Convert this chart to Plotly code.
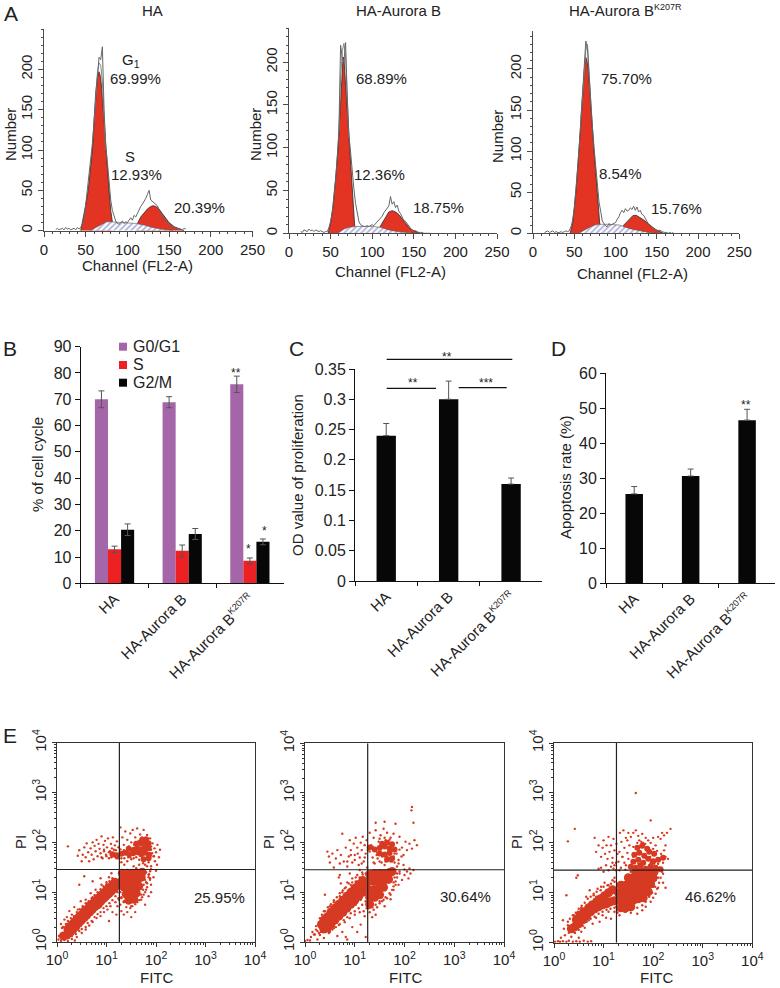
import numpy as np
import plotly.graph_objects as go

W, H = 780, 988
FONT = "Liberation Sans"
INK = "#222222"
AXIS = "#4a4a4a"

SMALL_SUP = '<sup><span style="font-size:9px">K207R</span></sup>'
CATS = ["HA", "HA-Aurora B", "HA-Aurora B" + SMALL_SUP]

# panel A: histograms
RAW_CH = [14, 16, 18, 20, 22, 24, 26, 28, 30, 32, 34, 36, 38, 40, 42, 44, 46, 48, 50, 52, 54, 56, 58, 60, 62, 64, 66, 68, 70, 72,
          74, 76, 78, 80, 82, 84, 86, 88, 90, 92, 94, 96, 98, 100, 102, 104, 106, 108, 110, 112, 114, 116, 118, 120, 122, 124, 126,
          128, 130, 132, 134, 136, 138, 140, 142, 144, 146, 148, 150, 152, 154, 156, 158, 160, 162, 164, 166, 168, 170]
HA_RAW = [1, 3, 1, 2, 3, 1, 4, 2, 3, 1, 2, 3, 1, 4, 2, 4, 8, 15, 32, 50, 68, 88, 108, 135, 172, 190, 215, 212, 228, 150,
          105, 85, 58, 38, 25, 17, 12, 9, 8, 10, 12, 9, 11, 10, 14, 16, 13, 19, 17, 22, 26, 30, 33, 36, 40, 45, 50,
          38, 36, 35, 33, 31, 26, 22, 17, 14, 10, 9, 7, 5, 4, 4, 3, 2, 2, 2, 1, 3, 2]
HAB_RAW = [2, 1, 4, 3, 2, 5, 3, 4, 2, 4, 3, 2, 3, 2, 1, 2, 2, 7, 14, 25, 42, 62, 90, 120, 220, 205, 200, 223, 160, 115,
           95, 70, 52, 35, 22, 14, 10, 9, 8, 8, 9, 8, 9, 10, 9, 11, 13, 15, 18, 20, 24, 27, 30, 32, 43, 34, 37,
           30, 33, 26, 23, 19, 15, 14, 11, 8, 6, 4, 3, 3, 2, 1, 1, 1, 0, 0, 0, 0, 0]
HAK_RAW = [1, 2, 3, 1, 2, 3, 1, 2, 1, 1, 2, 1, 2, 3, 2, 3, 8, 16, 30, 50, 78, 105, 140, 172, 205, 234, 225, 190, 165, 130,
           104, 82, 60, 38, 27, 15, 12, 9, 8, 12, 10, 11, 13, 13, 17, 20, 25, 28, 25, 30, 27, 28, 31, 29, 33, 28, 32,
           26, 28, 23, 22, 18, 15, 11, 10, 8, 7, 4, 3, 3, 4, 2, 1, 1, 1, 0, 1, 0, 1]

# second contour around the G1 peak
HA_TOP_CH = [60, 62, 64, 66, 68, 70, 72, 74]
HA_TOP = [135, 170, 195, 208, 205, 185, 140, 100]
HAB_TOP_CH = [60, 62, 64, 66, 68, 70, 72]
HAB_TOP = [120, 180, 213, 222, 206, 150, 112]
HAK_TOP_CH = [58, 60, 62, 64, 66, 68, 70]
HAK_TOP = [140, 172, 200, 222, 230, 190, 160]

HA_G1_CH = [44, 47, 50, 53, 56, 58, 60, 62, 64, 66, 68, 70, 72, 74, 76, 78, 80, 82]
HA_G1 = [0, 15, 32, 50, 80, 100, 135, 170, 190, 197, 190, 165, 135, 100, 78, 50, 25, 11]
HA_S_CH = [55, 60, 65, 70, 75, 80, 90, 100, 110, 120, 130, 140, 150, 155]
HA_S = [0, 3, 6, 9, 11, 11, 10.5, 10, 9, 7, 4, 2, 1, 0]
HA_G2_CH = [112, 116, 120, 124, 128, 131, 134, 138, 142, 146, 150, 156, 162, 168]
HA_G2 = [9, 17, 22, 27, 30, 31, 30, 27, 21, 15, 10, 5, 2, 0]

HAB_G1_CH = [47, 50, 53, 55, 57, 59, 61, 62, 64, 65, 66, 68, 69, 71, 72.5, 74, 76, 78, 79]
HAB_G1 = [0, 12, 32, 50, 75, 100, 135, 150, 195, 206, 205, 175, 150, 120, 100, 78, 50, 15, 8]
HAB_S_CH = [58, 62, 66, 72, 80, 90, 100, 110, 120, 130, 140, 150]
HAB_S = [0, 3, 5, 7, 8, 8, 8, 7, 4, 2, 1, 0]
HAB_G2_CH = [109, 112, 116, 120, 124, 128, 132, 136, 140, 144, 148, 152, 157]
HAB_G2 = [7, 12, 20, 25, 26.5, 25, 22, 17, 11, 7, 4, 2, 0]

HAK_G1_CH = [45, 48, 52, 54, 56, 58, 59, 61, 62, 63, 64, 65, 67, 69, 70, 72, 74, 76, 78, 80, 81]
HAK_G1 = [0, 12, 50, 75, 100, 135, 150, 185, 200, 210, 214, 212, 200, 170, 150, 125, 100, 75, 50, 20, 10]
HAK_S_CH = [55, 60, 65, 70, 75, 80, 90, 100, 105, 110, 120, 130, 140, 150]
HAK_S = [0, 3, 6, 8, 10, 11, 11, 10.5, 10, 8, 5, 3, 1, 0]
HAK_G2_CH = [109, 113, 117, 121, 125, 129, 133, 137, 141, 145, 150, 155, 158]
HAK_G2 = [9, 13, 18, 21.5, 22, 20, 17, 14, 10, 7, 4, 1, 0]

# panel B
G0G1 = [69.99, 68.89, 75.70]
G0G1_ERR = [3.2, 2.1, 3.1]
S_PHASE = [12.93, 12.36, 8.54]
S_ERR = [1.2, 2.2, 1.1]
G2M = [20.39, 18.75, 15.76]
G2M_ERR = [2.2, 2.1, 1.1]

# panel C, D
OD = [0.24, 0.30, 0.16]
OD_ERR = [0.02, 0.03, 0.01]
APOP = [25.5, 30.6, 46.6]
APOP_ERR = [2.1, 2.0, 3.1]

# panel E: dot plots in decades
E1_CORE_X = [.13, .20, .27, .22, .33, .28, .38, .33, .44, .39, .49, .44, .55, .50, .60, .55, .66, .61, .71, .66, .77, .72, .83, .77, .88, .83, .94, .89, .99, .94, 1.05, 1.0, 1.1, 1.05, 1.16, 1.12, 1.2, 1.17,
             1.32, 1.42, 1.52, 1.62, 1.72, 1.32, 1.42, 1.52, 1.62, 1.7, 1.35, 1.45, 1.55, 1.65, 1.4, 1.5, 1.6, 1.45, 1.55]
E1_CORE_Y = [.12, .14, .20, .26, .26, .33, .31, .38, .38, .44, .43, .50, .49, .55, .54, .61, .6, .66, .65, .72, .71, .77, .75, .82, .81, .88, .87, .93, .92, .98, .97, 1.04, 1.02, 1.09, 1.08, 1.14, 1.14, 1.2,
             1.38, 1.38, 1.38, 1.38, 1.4, 1.24, 1.24, 1.24, 1.24, 1.3, 1.1, 1.1, 1.1, 1.12, .96, .96, .98, .84, .86]
E1_MID_X = [1.12, 1.2, 1.30, 1.38, 1.46, 1.54, 1.62, 1.7, 1.78, 1.86, 1.62, 1.7, 1.78, 1.7, 1.78, 1.75, 1.85, 1.45, 1.55, 1.85, 1.6, 1.85, 1.72, 1.8]
E1_MID_Y = [1.76, 1.74, 1.77, 1.79, 1.76, 1.78, 1.8, 1.76, 1.79, 1.75, 1.88, 1.86, 1.9, 1.98, 1.96, 1.66, 1.68, 1.87, 1.85, 1.88, 1.97, 1.98, 2.05, 2.06]
E1_DOT_X = [.22, .42, .45, .5, .52, .55, .58, .6, .63, .65, .68, .7, .72, .74, .76, .78, .8, .82, .84, .86, .88, .9, .92, .94, .95, .97, .99, 1.01, 1.03, 1.05, 1.07, 1.09, 1.11, 1.13, 1.15, 1.17, 1.19, 1.21, 1.23, 1.24,
            1.28, 1.32, 1.35, 1.38, 1.42, 1.45, 1.48, 1.5, 1.53, 1.56, 1.58, 1.62, 1.65, 1.68, 1.72, 1.75, 1.78, 1.82, 1.85, 1.88, 1.9, 1.93, 1.95, 1.97, 2.0, 2.03, 2.06, 2.08, 1.98, 2.02, 1.85, 1.78, 1.9, 1.42, 1.5, 1.3, 1.36,
            .08, .1, .15, .2, .25, .3, .35, .42, .48, .52, .58, .62, .68, .72, .78, .84, .9, .95, 1.0, .45, .55, .72, .88, 1.05, 1.1, .4, .5, .58, .65, .72, .8, .88, .95, 1.02, 1.08, 1.12, 1.18, 1.2, 1.05, .3, .15, .08, .03, .22, .36, .04,
            1.28, 1.3, 1.4, 1.48, 1.52, 1.62, 1.7, 1.75, 1.8, 1.82, 1.85, 1.88, 1.95, 2.0, 1.9, 1.78, 1.5, 1.42, 1.58, 1.35, 1.85]
E1_DOT_Y = [1.92, 1.73, 1.84, 1.62, 1.75, 1.9, 1.7, 1.98, 1.8, 1.62, 1.88, 1.75, 2.0, 1.66, 1.93, 1.82, 2.05, 1.72, 1.97, 1.87, 1.78, 2.12, 1.68, 1.95, 1.85, 2.03, 1.75, 1.9, 2.08, 1.68, 1.82, 1.97, 1.88, 2.1, 1.72, 1.94, 1.84, 2.02, 1.68, 1.9,
            2.3, 2.1, 1.95, 2.22, 2.05, 1.92, 2.18, 2.0, 2.25, 1.95, 2.1, 2.28, 2.03, 2.16, 2.1, 2.25, 2.05, 2.15, 1.95, 2.08, 1.85, 1.98, 1.72, 1.88, 1.8, 1.95, 1.7, 1.85, 1.62, 1.55, 1.6, 1.55, 1.52, 1.62, 1.66, 1.6, 1.55,
            .36, .28, .45, .5, .62, .55, .7, .65, .82, .72, .85, .78, .98, .9, 1.05, .98, 1.15, 1.08, 1.2, 1.15, 1.32, 1.22, 1.28, 1.3, 1.38, .1, .18, .25, .33, .4, .48, .52, .6, .65, .72, .6, .8, .55, .42, .06, .04, .02, .05, .02, .03, .12,
            .75, .62, .7, .68, .72, .8, .85, .95, 1.05, 1.18, 1.3, 1.42, 1.3, 1.43, 1.15, .75, .5, .6, .6, .55, .92]
E1_EXTRA_X = [1.28, 1.35, 1.42, 1.48, 1.55, 1.6, 1.66, 1.72, 1.8, 1.88, 1.92, 1.96, 1.9, 1.84, 1.76, 1.68, 1.6, 1.52, 1.44, 1.36, 1.1, 1.05, 1.0, .95, .9, 1.15, 1.2, 1.25, 1.3, 1.66, 1.74, 1.82, 1.9, 1.6, 1.55, 1.5, 1.88, 1.86, 1.8, 1.74, 1.7, 1.25, 1.22, 1.9, 1.3, 1.35, 1.28,
              .3, .38, .45, .5, .58, .62, .7, .76, .82, .88, .94, 1.0, 1.06, 1.12, 1.18, 1.22, 1.24, .42, .55, .68, .8, .92, 1.04, 1.15,
              .12, .18, .22, .28, .34, .4, .46, .52, .58, .64, .7, .76, .82, .88, .94, 1.0, 1.06, 1.12, .3, .4, .5, .6, .7, .8, .9, 1.0, 1.1,
              1.85, 1.88, 1.82, 1.78, 1.72, 1.66, 1.58, 1.5, 1.42, 1.35, 1.3, 1.78, 1.8, 1.75]
E1_EXTRA_Y = [1.86, 1.84, 1.88, 1.7, 1.68, 1.7, 1.65, 1.68, 1.68, 1.7, 1.78, 1.72, 1.92, 1.96, 2.02, 1.95, 1.9, 1.85, 1.7, 1.68, 1.7, 1.8, 1.72, 1.82, 1.7, 1.85, 1.68, 1.72, 1.68, 1.55, 1.58, 1.52, 1.46, 1.48, 1.52, 1.44, 1.28, 1.36, 1.2, 1.05, .95, .85, .72, 1.0, .9, .8, 1.0,
              .12, .16, .22, .26, .3, .38, .42, .5, .56, .6, .68, .72, .78, .84, .92, 1.0, .88, .3, .42, .55, .68, .8, .9, 1.02,
              .3, .36, .42, .48, .52, .6, .66, .7, .78, .82, .88, .94, 1.0, 1.06, 1.12, 1.16, 1.22, 1.28, .42, .52, .62, .72, .82, .92, 1.02, 1.1, 1.2,
              1.35, 1.25, 1.1, 1.0, .9, .84, .76, .72, .78, .82, .88, 1.25, 1.4, 1.15]

E2_CORE_X = [.38, .33, .45, .42, .38, .52, .5, .44, .6, .57, .52, .68, .65, .6, .76, .73, .68, .84, .81, .76, .92, .89, .84, 1.0, .97, .92, 1.08, 1.05, 1.0, 1.16, 1.13, 1.08, 1.24, 1.2, 1.16,
             1.3, 1.4, 1.5, 1.6, 1.7, 1.28, 1.38, 1.48, 1.58, 1.68, 1.28, 1.38, 1.48, 1.58, 1.3, 1.4, 1.5, 1.75, 1.3]
E2_CORE_Y = [.26, .35, .28, .36, .44, .35, .44, .50, .44, .52, .6, .52, .6, .68, .6, .68, .76, .68, .76, .84, .76, .84, .92, .84, .92, 1.0, .92, 1.0, 1.08, 1.0, 1.08, 1.16, 1.08, 1.16, 1.24,
             1.36, 1.38, 1.38, 1.38, 1.4, 1.22, 1.22, 1.24, 1.24, 1.26, 1.05, 1.05, 1.08, 1.1, .9, .9, .95, 1.42, .76]
E2_MID_X = [1.4, 1.5, 1.6, 1.7, 1.8, 1.55, 1.65, 1.75, 1.5, 1.6, 1.7, 1.65, 1.75, 1.3]
E2_MID_Y = [1.86, 1.89, 1.92, 1.88, 1.86, 1.98, 2.0, 1.97, 1.78, 1.76, 1.79, 1.66, 1.68, 1.9]
E2_DOT_X = [.45, .48, .5, .55, .58, .62, .65, .7, .72, .75, .78, .82, .85, .88, .9, .92, .95, .98, 1.0, 1.02, 1.05, 1.08, 1.1, 1.12, 1.14, 1.16, 1.18, 1.2, 1.22, 1.24, 1.25, 1.1,
            1.3, 1.33, 1.36, 1.38, 1.4, 1.42, 1.45, 1.48, 1.5, 1.52, 1.55, 1.58, 1.6, 1.62, 1.65, 1.68, 1.72, 1.75, 1.78, 1.8, 1.85, 1.88, 1.9, 1.95, 1.98, 2.02, 2.05, 2.1, 2.15, 2.2, 2.25, 1.82, 1.6, 1.42, 2.18, 2.15, 2.14, 1.98, 1.85, 2.0, 2.1, 2.18,
            .0, .05, .1, .12, .2, .25, .3, .38, .22, .28, .15, .35, .38, .45, .4, .5, .58, .62, .68, .7, .75, .72, .8, .85, .92, .7, .95, 1.02, .9, 1.05, 1.15, .5, .58, .65, .68, .75, .8, .82, .9, .95, 1.0, 1.05, 1.1, 1.12, 1.2, 1.22, 1.24, .85,
            1.3, 1.38, 1.45, 1.5, 1.55, 1.62, 1.7, 1.75, 1.78, 1.82, 1.85, 1.9, 1.95, 2.0, 2.05, 1.88, 1.72, 1.35, 1.42, 1.6, 2.12, 2.08]
E2_DOT_Y = [1.82, 1.72, 1.6, 1.78, 1.5, 1.68, 1.85, 1.58, 1.75, 2.18, 1.62, 1.9, 1.52, 1.72, 2.05, 1.85, 1.6, 1.98, 1.75, 2.1, 1.9, 1.55, 1.7, 2.0, 1.85, 2.12, 1.62, 1.95, 1.78, 2.05, 1.5, 1.45,
            2.2, 1.95, 1.7, 2.1, 1.58, 2.25, 1.8, 2.02, 1.62, 2.15, 1.72, 2.28, 1.55, 2.05, 2.2, 1.7, 2.1, 1.62, 2.18, 1.78, 2.0, 1.65, 2.12, 1.9, 1.75, 2.02, 1.85, 1.98, 1.88, 2.05, 1.95, 2.38, 2.42, 2.4, 2.4, 2.72, 2.65, 1.55, 1.52, 1.46, 1.48, 1.45,
            .02, .04, .03, .1, .15, .05, .14, .08, .25, .4, .2, .5, .62, .58, .95, .72, .8, .75, 1.3, .92, 1.0, 1.18, 1.08, 1.2, 1.15, 1.35, 1.28, 1.22, 1.38, 1.35, 1.4, .2, .28, .12, .34, .2, .4, .1, .48, .3, .55, .2, .6, .35, .52, .1, .68, .05,
            .6, .65, .7, .78, .82, .9, .98, 1.05, 1.12, 1.22, 1.3, 1.38, 1.25, 1.35, 1.42, 1.15, .86, .5, .55, .72, 1.38, 1.28]
E2_EXTRA_X = [1.3, 1.36, 1.44, 1.52, 1.58, 1.64, 1.7, 1.78, 1.84, 1.9, 1.94, 1.46, 1.54, 1.62, 1.72, 1.8, 1.88, 1.5, 1.6, 1.7, 1.38, 1.26, 1.2, 1.14, 1.06, 1.0, .92, .85,
              .48, .55, .62, .7, .78, .85, .92, 1.0, 1.08, 1.15, 1.22, 1.18, 1.25, .65, .78, .9, 1.02, 1.12,
              .3, .34, .4, .46, .52, .58, .64, .7, .76, .82, .88, .95, 1.02, 1.1, 1.16, 1.22, .42, .5, .58, .66,
              .25, .3, .22, .28, .18, .32,
              1.8, 1.82, 1.78, 1.72, 1.65, 1.58, 1.5, 1.42, 1.35, 1.28, 1.85, 1.9, 1.78]
E2_EXTRA_Y = [1.82, 1.92, 1.75, 1.95, 1.78, 1.72, 1.8, 1.72, 1.78, 1.86, 1.72, 1.68, 1.6, 1.62, 1.62, 1.6, 1.58, 2.08, 2.1, 2.06, 1.6, 1.85, 1.7, 1.58, 1.78, 1.65, 1.75, 1.62,
              .18, .25, .3, .36, .44, .5, .58, .62, .68, .75, .82, .62, .9, .42, .55, .68, .75, .85,
              .48, .55, .62, .7, .76, .84, .9, .98, 1.04, 1.1, 1.18, 1.2, 1.3, 1.3, 1.36, 1.38, .52, .6, .7, .78,
              .22, .28, .32, .18, .15, .2,
              1.3, 1.15, 1.05, .95, .88, .85, .82, .75, .7, .68, 1.38, 1.42, 1.2]

E3_CORE_X = [.35, .42, .5, .45, .58, .52, .66, .6, .74, .7, .82, .78, .9, .86, .98, .94, 1.06, 1.02, 1.14, 1.1, 1.22, 1.18,
             1.35, 1.45, 1.55, 1.3, 1.4, 1.5, 1.6, 1.7, 1.8, 1.3, 1.4, 1.5, 1.6, 1.7, 1.8, 1.9, 1.35, 1.45, 1.55, 1.65, 1.75, 1.85, 1.95, 1.5, 1.6, 1.7, 1.8, 1.9, 2.0, 1.65, 1.75, 1.85, 1.95, 2.02]
E3_CORE_Y = [.28, .32, .38, .46, .46, .54, .54, .62, .62, .7, .68, .76, .72, .82, .76, .88, .78, .94, .82, 1.0, .84, 1.06,
             .7, .7, .72, .85, .85, .85, .85, .88, .9, 1.0, 1.0, 1.0, 1.0, 1.0, 1.0, 1.02, 1.15, 1.15, 1.15, 1.15, 1.15, 1.15, 1.18, 1.3, 1.3, 1.3, 1.3, 1.3, 1.3, 1.42, 1.42, 1.42, 1.42, 1.42]
E3_MID_X = [1.55, 1.65, 1.75, 1.85, 1.95, 2.05, 2.15, 1.6, 1.7, 1.8, 1.9, 2.0, 2.1, 2.2, 1.62, 1.72, 1.82, 1.92, 2.02, 1.68, 1.78, 1.88]
E3_MID_Y = [1.52, 1.5, 1.55, 1.48, 1.53, 1.5, 1.47, 1.62, 1.66, 1.6, 1.68, 1.63, 1.66, 1.7, 1.76, 1.8, 1.74, 1.82, 1.78, 1.9, 1.94, 1.88]
E3_DOT_X = [.02, .08, .12, .18, .25, .3, .38, .45, .52, .6, .68, .75, .14, .22, .3, .2, .28, .18, .35, .42, .5, .55, .62, .4, .48, .55, .62, .7, .78, .85, .92, .98, 1.05, 1.1, .25, .65, .72, .8, .88, .95, 1.02, 1.1, 1.18, 1.22, .45, .48, .28, .42, 1.15, 1.22,
            .82, .85, .9, .95, .98, 1.0, 1.03, 1.06, 1.08, 1.1, 1.12, 1.15, 1.18, 1.2, 1.22, 1.25, 1.26, 1.05, 1.15, .95, .9, 1.1, 1.2, 1.0,
            1.3, 1.32, 1.33, 1.36, 1.38, 1.4, 1.42, 1.45, 1.48, 1.5, 1.55, 1.6, 1.65, 1.7, 1.72, 1.78, 1.8, 1.85, 1.9, 1.95, 2.0, 2.05, 2.1, 2.15, 2.18, 2.22, 2.28, 2.35, 1.95, 1.65, 2.25, 2.22, 2.25, 2.2, 2.12, 2.18, 2.3, 1.35, 1.42,
            2.1, 2.12, 2.08, 2.05, 2.0, 1.95, 1.85, 1.78, 1.68, 1.55, 1.42, 1.32, 1.28, 2.2, 2.25, 2.2]
E3_DOT_Y = [.02, .03, .02, .03, .02, .04, .02, .03, .02, .04, .02, .03, .1, .15, .2, .28, .35, .45, .12, .2, .1, .22, .3, .55, .62, .7, .65, .45, .38, .5, .42, .55, .5, .62, .95, .92, 1.05, .95, 1.08, 1.12, 1.2, 1.15, 1.25, 1.3, 1.3, 1.35, 2.03, 2.28, .48, .62,
            2.1, 1.82, 1.95, 1.72, 1.9, 2.05, 1.78, 1.95, 1.68, 2.12, 1.82, 1.95, 1.7, 2.08, 1.85, 1.6, 1.98, 1.55, 1.52, 1.5, 1.48, 1.45, 1.48, 1.42,
            1.62, 1.82, 2.2, 2.02, 1.72, 2.25, 1.9, 2.1, 2.05, 2.2, 2.12, 2.2, 2.25, 2.14, 2.05, 2.18, 2.0, 2.1, 2.05, 2.0, 2.1, 1.95, 2.12, 2.08, 2.2, 2.15, 2.2, 2.28, 2.45, 3.0, 1.95, 1.85, 1.72, 1.6, 1.5, 1.42, 1.68, 1.5, 1.6,
            1.3, 1.2, 1.08, .98, .9, .82, .72, .65, .58, .6, .62, .55, .6, 1.2, 1.1, 1.38]
E3_EXTRA_X = [1.48, 1.52, 1.6, 1.68, 1.76, 1.84, 1.92, 2.0, 2.08, 2.16, 2.1, 2.02, 1.94, 1.86, 1.78, 1.7, 1.6, 1.5, 1.44, 1.38, 1.32, 1.28, 1.25, 1.22, 1.18, 1.45, 1.55, 1.85, 1.95, 2.05, 1.98, 2.04, 2.1, 2.15,
              .42, .5, .58, .66, .74, .82, .9, .98, 1.06, 1.14, 1.22, 1.26, .6, .72, .85, 1.0, 1.12,
              .28, .32, .38, .44, .5, .56, .62, .68, .74, .8, .86, .94, 1.0, 1.08, 1.15, 1.22, .45, .58, .72, .85,
              2.02, 2.05, 2.0, 1.98, 1.92, 1.85, 1.78, 1.68, 1.58, 1.45, 1.35, 1.28, 1.28, 2.08]
E3_EXTRA_Y = [1.8, 1.95, 1.92, 2.0, 2.02, 1.98, 1.86, 1.88, 1.84, 1.78, 1.58, 1.58, 1.72, 1.7, 1.58, 1.58, 1.72, 1.68, 1.46, 1.72, 1.45, 1.78, 1.45, 1.55, 1.6, 1.55, 1.42, 1.72, 1.6, 1.45, 1.25, 1.12, 1.1, 1.3,
              .2, .26, .34, .42, .48, .52, .58, .62, .66, .68, .7, .72, .42, .55, .62, .7, .75,
              .42, .48, .55, .6, .68, .74, .8, .88, .92, .98, 1.02, 1.05, 1.12, 1.15, 1.18, 1.22, .52, .66, .8, .92,
              1.38, 1.25, 1.12, 1.0, .92, .82, .75, .7, .68, .62, .65, .8, .65, 1.45]

QUAD_X = 18.2
QUAD_Y = 28.5
E_TICKS = [1, 10, 100, 1000, 10000]
E_LABELS = ["10<sup>0</sup>", "10<sup>1</sup>", "10<sup>2</sup>", "10<sup>3</sup>", "10<sup>4</sup>"]
E_MINOR = [k * 10 ** d for d in range(4) for k in range(2, 10)]
A_YTICKS = [0, 50, 100, 150, 200]


def dom_x(a, b):
    return [a / W, b / W]


def dom_y(top, bottom):
    return [1 - bottom / H, 1 - top / H]


notes = []
shapes = []


def note(text, x, y, size=15, angle=0):
    notes.append(dict(text=text, x=x / W, y=1 - y / H, xref="paper", yref="paper", showarrow=False,
                      xanchor="center", yanchor="middle", textangle=angle, font=dict(size=size, color=INK, family=FONT)))


def rule(x0, x1, y):
    shapes.append(dict(type="line", xref="paper", yref="paper", x0=x0 / W, x1=x1 / W, y0=1 - y / H, y1=1 - y / H,
                       line=dict(color="#111111", width=1.2)))


fig = go.Figure()
layout_axes = {}


def add_hist(n, raw, top_ch, top_vals, g1_ch, g1, s_ch, s, g2_ch, g2, box, ymax):
    xa, ya = "x%d" % n, "y%d" % n
    for ch, val in [(g1_ch, g1), (g2_ch, g2)]:
        fig.add_trace(go.Scatter(x=ch, y=val, xaxis=xa, yaxis=ya, mode="lines", fill="tozeroy", fillcolor="#E23323",
                                 line=dict(color="#2a2a2a", width=0.8), showlegend=False))
    fig.add_trace(go.Scatter(x=s_ch, y=s, xaxis=xa, yaxis=ya, mode="lines", fill="tozeroy",
                             fillpattern=dict(shape="/", fgcolor="#5f62b0", bgcolor="white", size=4, solidity=0.45),
                             line=dict(color="#555555", width=0.6), showlegend=False))
    fig.add_trace(go.Scatter(x=top_ch, y=top_vals, xaxis=xa, yaxis=ya, mode="lines", line=dict(color="#888888", width=1),
                             showlegend=False))
    fig.add_trace(go.Scatter(x=RAW_CH, y=raw, xaxis=xa, yaxis=ya, mode="lines", line=dict(color="#666666", width=1),
                             showlegend=False))
    left, right, top, bottom = box
    suffix = "" if n == 1 else str(n)
    layout_axes["xaxis" + suffix] = dict(domain=dom_x(left, right), range=[0, 250], anchor=ya, dtick=50, showline=True, automargin=False,
                                         linecolor=AXIS, ticks="outside", ticklen=5, tickcolor=AXIS, showgrid=False,
                                         zeroline=False, minor=dict(dtick=10, ticks="outside", ticklen=2, tickcolor=AXIS),
                                         tickfont=dict(size=15, family=FONT, color=INK))
    layout_axes["yaxis" + suffix] = dict(domain=dom_y(top, bottom), range=[0, ymax], anchor=xa, tickmode="array", tickvals=A_YTICKS,
                                         showline=True, automargin=False,
                                         linecolor=AXIS, ticks="outside", ticklen=5, tickcolor=AXIS, showgrid=False,
                                         zeroline=False, tickangle=-90, minor=dict(dtick=10, ticks="outside", ticklen=2, tickcolor=AXIS),
                                         tickfont=dict(size=15, family=FONT, color=INK))


add_hist(1, HA_RAW, HA_TOP_CH, HA_TOP, HA_G1_CH, HA_G1, HA_S_CH, HA_S, HA_G2_CH, HA_G2, (44, 252.5, 29, 230.7), 250)
add_hist(2, HAB_RAW, HAB_TOP_CH, HAB_TOP, HAB_G1_CH, HAB_G1, HAB_S_CH, HAB_S, HAB_G2_CH, HAB_G2, (289, 497, 28, 233.3), 240)
add_hist(3, HAK_RAW, HAK_TOP_CH, HAK_TOP, HAK_G1_CH, HAK_G1, HAK_S_CH, HAK_S, HAK_G2_CH, HAK_G2, (533, 739.3, 30.7, 233.3), 246.6)


def bar_axes(n, box, yrange, dtick):
    left, right, top, bottom = box
    layout_axes["xaxis%d" % n] = dict(domain=dom_x(left, right), anchor="y%d" % n, type="category", tickson="boundaries", automargin=False,
                                      showline=True, linecolor="#111111", ticks="outside", ticklen=4, tickcolor="#111111",
                                      showgrid=False, tickangle=-45, tickfont=dict(size=15, family=FONT, color=INK))
    layout_axes["yaxis%d" % n] = dict(domain=dom_y(top, bottom), anchor="x%d" % n, range=yrange, dtick=dtick, showline=True, automargin=False,
                                      linecolor="#111111", ticks="outside", ticklen=5, tickcolor="#111111", showgrid=False,
                                      zeroline=False, tickfont=dict(size=16, family=FONT, color=INK))


for name, vals, errs, col in [("G0/G1", G0G1, G0G1_ERR, "#A566A9"), ("S", S_PHASE, S_ERR, "#ED2024"), ("G2/M", G2M, G2M_ERR, "#070707")]:
    fig.add_trace(go.Bar(x=CATS, y=vals, name=name, xaxis="x4", yaxis="y4", marker=dict(color=col, line_width=0), showlegend=False,
                         error_y=dict(type="data", array=errs, color="#555555", thickness=1, width=3)))
bar_axes(4, (80.7, 283.7, 346.7, 583.3), [0, 90], 10)

fig.add_trace(go.Bar(x=CATS, y=OD, xaxis="x5", yaxis="y5", width=0.31, marker=dict(color="#070707", line_width=0), showlegend=False,
                     error_y=dict(type="data", symmetric=False, array=OD_ERR, arrayminus=[0, 0, 0], color="#555555", thickness=1, width=3)))
bar_axes(5, (355, 542.3, 369, 581), [0, 0.35], 0.05)

fig.add_trace(go.Bar(x=CATS, y=APOP, xaxis="x6", yaxis="y6", width=0.31, marker=dict(color="#070707", line_width=0), showlegend=False,
                     error_y=dict(type="data", symmetric=False, array=APOP_ERR, arrayminus=[0, 0, 0], color="#555555", thickness=1, width=3)))
bar_axes(6, (606, 775.3, 373.3, 583), [0, 60], 10)


def add_dots(n, core, mid, dots, box):
    xa, ya = "x%d" % n, "y%d" % n
    for (xs, ys), size in [(core, 9), (mid, 6), (dots, 2.4)]:
        fig.add_trace(go.Scatter(x=np.power(10.0, xs), y=np.power(10.0, ys), xaxis=xa, yaxis=ya, mode="markers",
                                 marker=dict(color="#D63A22", size=size, line_width=0), showlegend=False))
    fig.add_trace(go.Scatter(x=[QUAD_X, QUAD_X], y=[1, 10000], xaxis=xa, yaxis=ya, mode="lines", line=dict(color="#222222", width=1.2), showlegend=False))
    fig.add_trace(go.Scatter(x=[1, 10000], y=[QUAD_Y, QUAD_Y], xaxis=xa, yaxis=ya, mode="lines", line=dict(color="#222222", width=1.2), showlegend=False))
    left, right, top, bottom = box
    common = dict(type="log", range=[0, 4], tickmode="array", tickvals=E_TICKS, ticktext=E_LABELS, showline=True, mirror=True, automargin=False,
                  linecolor="#333333", linewidth=1.2, ticks="outside", ticklen=4, tickcolor="#333333", showgrid=False, zeroline=False,
                  minor=dict(tickvals=E_MINOR, ticks="outside", ticklen=2, tickcolor="#333333"),
                  tickfont=dict(size=15, family=FONT, color=INK))
    layout_axes["xaxis%d" % n] = dict(domain=dom_x(left, right), anchor=ya, **common)
    layout_axes["yaxis%d" % n] = dict(domain=dom_y(top, bottom), anchor=xa, tickangle=-90, **common)


add_dots(7, (E1_CORE_X, E1_CORE_Y), (E1_MID_X, E1_MID_Y), (E1_DOT_X + E1_EXTRA_X, E1_DOT_Y + E1_EXTRA_Y), (57, 255, 742.7, 942))
add_dots(8, (E2_CORE_X, E2_CORE_Y), (E2_MID_X, E2_MID_Y), (E2_DOT_X + E2_EXTRA_X, E2_DOT_Y + E2_EXTRA_Y), (305, 504, 743.3, 942))
add_dots(9, (E3_CORE_X, E3_CORE_Y), (E3_MID_X, E3_MID_Y), (E3_DOT_X + E3_EXTRA_X, E3_DOT_Y + E3_EXTRA_Y), (554, 752.3, 743, 942.7))

# panel letters and titles
for letter, x, y in [("A", 11, 14), ("B", 10, 348), ("C", 296, 348), ("D", 558, 348), ("E", 10, 735)]:
    note(letter, x, y, size=21)
note("HA", 152, 10)
note("HA-Aurora B", 399, 10)
note("HA-Aurora B" + SMALL_SUP, 625, 11)

# panel A text
note("G<sub>1</sub>", 131, 60)
note("69.99%", 135.5, 79)
note("S", 130, 156)
note("12.93%", 136, 175)
note("20.39%", 199, 207)
note("68.89%", 381, 79)
note("12.36%", 379, 175)
note("18.75%", 438, 207)
note("75.70%", 626, 79)
note("8.54%", 620, 173)
note("15.76%", 676, 208)
for x, y in [(137, 266), (390, 271), (632, 273)]:
    note("Channel (FL2-A)", x, y)
for x, y in [(10, 135), (255, 135), (498, 136)]:
    note("Number", x, y, angle=-90)

# panel B-D text
note("% of cell cycle", 38, 465, 15, -90)
note("OD value of proliferation", 297, 475, 15, -90)
note("Apoptosis rate (%)", 565, 478, 15, -90)
for label, col, y in [("G0/G1", "#A566A9", 346.7), ("S", "#ED2024", 365), ("G2/M", "#070707", 382.7)]:
    shapes.append(dict(type="rect", xref="paper", yref="paper", x0=119 / W, x1=127 / W, y0=1 - (y + 4) / H, y1=1 - (y - 4) / H,
                       fillcolor=col, line_width=0))
    notes.append(dict(text=label, x=131 / W, y=1 - y / H, xref="paper", yref="paper", showarrow=False, xanchor="left", yanchor="middle",
                      font=dict(size=16, color=INK, family=FONT)))
for text, x, y in [("**", 236, 373), ("*", 249, 549), ("*", 264, 531), ("**", 447, 357), ("**", 413, 383), ("***", 486, 383), ("**", 746, 405)]:
    note(text, x, y, 12)
rule(386.7, 512.3, 359.3)
rule(386.7, 436, 388.3)
rule(458.7, 506.7, 387.7)

# panel E text
note("25.95%", 219, 897)
note("30.64%", 465.7, 896)
note("46.62%", 710.7, 896)
for x in (156, 405, 656):
    note("FITC", x, 977)
for x in (20, 268, 516):
    note("PI", x, 842, angle=-90)

fig.update_layout(width=W, height=H, autosize=False, margin=dict(l=0, r=0, t=0, b=0, pad=0), paper_bgcolor="white", plot_bgcolor="white",
                  barmode="group", bargap=0.42, bargroupgap=0, showlegend=False, annotations=notes, shapes=shapes,
                  font=dict(family=FONT, color=INK), **layout_axes)
fig.write_html("out.html", config=dict(displayModeBar=False), post_script="document.body.style.margin='0';")
